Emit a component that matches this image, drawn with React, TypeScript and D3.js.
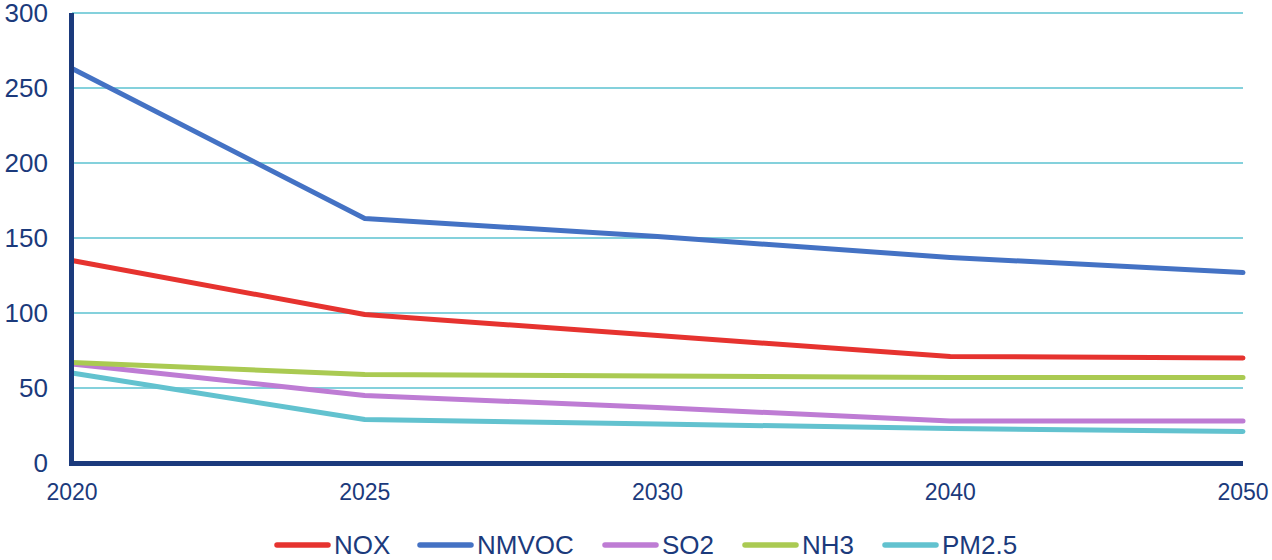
import React, { useEffect, useRef } from 'react';
import * as d3 from 'd3';

const years = ['2020', '2025', '2030', '2040', '2050'];
const nox = [135, 99, 85, 71, 70];
const nmvoc = [263, 163, 151, 137, 127];
const so2 = [66, 45, 37, 28, 28];
const nh3 = [67, 59, 58, 57, 57];
const pm25 = [60, 29, 26, 23, 21];
const yTicks = [0, 50, 100, 150, 200, 250, 300];

const seriesNames = ['NOX', 'NMVOC', 'SO2', 'NH3', 'PM2.5'];
const seriesValues = [nox, nmvoc, so2, nh3, pm25];
const seriesColors = ['#E6332F', '#4472C4', '#BE7CD4', '#AACA52', '#62C2CF'];

const App = () => {
  const ref = useRef(null);

  useEffect(() => {
    const width = 1272;
    const height = 560;
    const navy = '#1B3A7C';
    const font = 'Liberation Sans, Arial, sans-serif';

    d3.select(ref.current).selectAll('*').remove();

    const svg = d3
      .select(ref.current)
      .append('svg')
      .attr('width', width)
      .attr('height', height)
      .style('position', 'absolute')
      .style('left', 0)
      .style('top', 0);

    const x = d3.scalePoint().domain(years).range([72, 1243]);
    const y = d3.scaleLinear().domain([0, 300]).range([463, 13]);

    // gridlines
    svg
      .append('g')
      .selectAll('line')
      .data(yTicks.filter(t => t > 0))
      .enter()
      .append('line')
      .attr('x1', 72)
      .attr('x2', 1243)
      .attr('y1', d => y(d))
      .attr('y2', d => y(d))
      .attr('stroke', '#5BC2D0')
      .attr('stroke-width', 1.5);

    // y labels
    svg
      .append('g')
      .selectAll('text')
      .data(yTicks)
      .enter()
      .append('text')
      .attr('x', 48)
      .attr('y', d => y(d))
      .attr('dy', '0.36em')
      .attr('text-anchor', 'end')
      .style('font-family', font)
      .style('font-size', '26px')
      .style('fill', navy)
      .text(d => d);

    // x labels
    svg
      .append('g')
      .selectAll('text')
      .data(years)
      .enter()
      .append('text')
      .attr('x', d => x(d))
      .attr('y', 500)
      .attr('text-anchor', 'middle')
      .style('font-family', font)
      .style('font-size', '23px')
      .style('fill', navy)
      .text(d => d);

    // series
    const line = d3
      .line<number>()
      .x((_, i) => x(years[i]))
      .y(d => y(d));

    seriesValues.forEach((vals, i) => {
      svg
        .append('path')
        .datum(vals)
        .attr('d', line)
        .attr('fill', 'none')
        .attr('stroke', seriesColors[i])
        .attr('stroke-width', 5)
        .attr('stroke-linejoin', 'round')
        .attr('stroke-linecap', 'round');
    });

    // axes
    svg
      .append('line')
      .attr('x1', 71.5)
      .attr('x2', 71.5)
      .attr('y1', 13)
      .attr('y2', 466)
      .attr('stroke', navy)
      .attr('stroke-width', 5);
    svg
      .append('line')
      .attr('x1', 69)
      .attr('x2', 1243)
      .attr('y1', 463.5)
      .attr('y2', 463.5)
      .attr('stroke', navy)
      .attr('stroke-width', 5);

    // legend
    const legendX = [275, 418, 603, 743, 883];
    seriesNames.forEach((name, i) => {
      const g = svg.append('g').attr('transform', `translate(${legendX[i]}, 545)`);
      g.append('line')
        .attr('x1', 2)
        .attr('x2', 53)
        .attr('stroke', seriesColors[i])
        .attr('stroke-width', 5.5)
        .attr('stroke-linecap', 'round');
      g.append('text')
        .attr('x', 59)
        .attr('y', 8.5)
        .style('font-family', font)
        .style('font-size', '26px')
        .style('fill', navy)
        .text(name);
    });
  }, []);

  return <div ref={ref}></div>;
};

export default App;
